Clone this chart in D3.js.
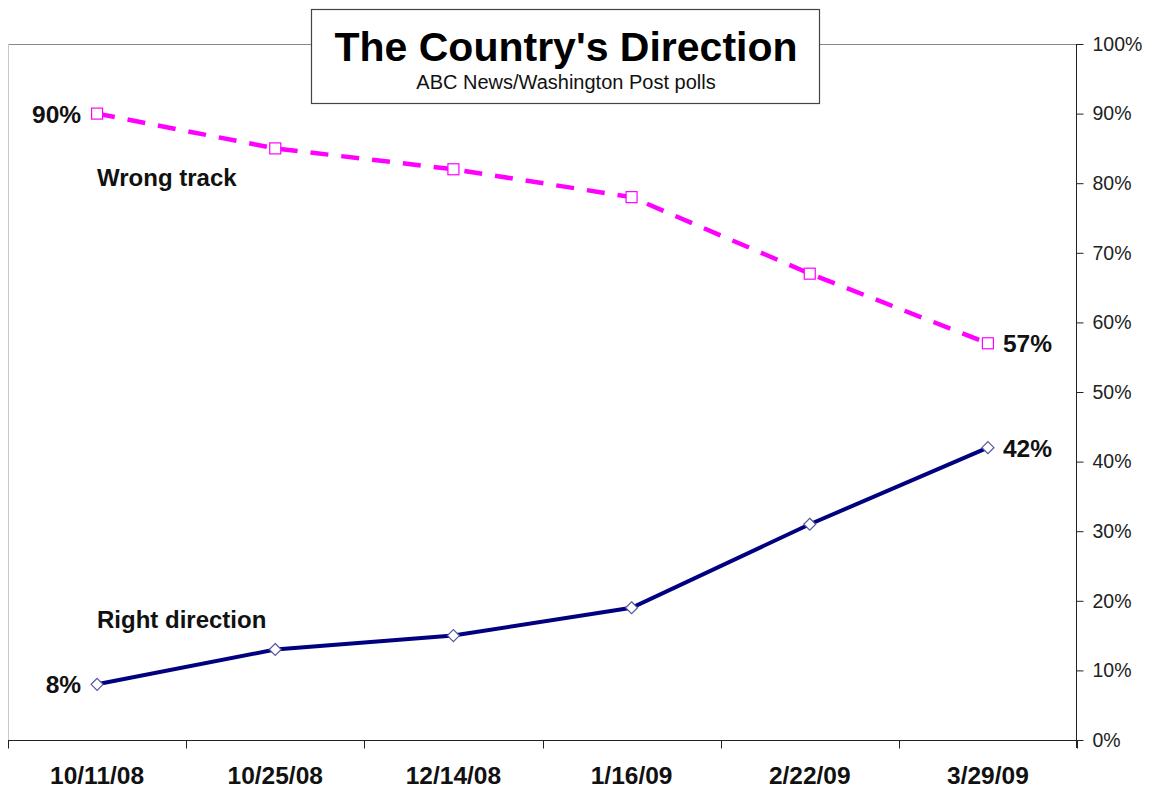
<!DOCTYPE html>
<html>
<head>
<meta charset="utf-8">
<script src="https://cdn.jsdelivr.net/npm/d3@7"></script>
<style>
  html, body { margin: 0; padding: 0; background: #fff; }
  svg { display: block; font-family: Arial, "Liberation Sans", sans-serif; }
</style>
</head>
<body>
<svg id="chart" width="1151" height="787"></svg>
<script>
// Poll dates and results (percent)
const pollDates = ["10/11/08", "10/25/08", "12/14/08", "1/16/09", "2/22/09", "3/29/09"];
const wrongTrack = [90, 85, 82, 78, 67, 57];
const rightDirection = [8, 13, 15, 19, 31, 42];
const yTicks = [0, 10, 20, 30, 40, 50, 60, 70, 80, 90, 100];

const svg = d3.select("#chart");
const plot = { left: 8, right: 1077, top: 44, bottom: 740 };

const x = d3.scaleBand().domain(pollDates).range([plot.left, plot.right]);
const y = d3.scaleLinear().domain([0, 100]).range([plot.bottom, plot.top]);
const cx = d => x(d) + x.bandwidth() / 2;

// plot frame: top and left edges
svg.append("line").attr("x1", plot.left).attr("x2", plot.right)
  .attr("y1", plot.top + 0.5).attr("y2", plot.top + 0.5)
  .attr("stroke", "#888").attr("stroke-width", 1);
svg.append("line").attr("x1", plot.left + 0.5).attr("x2", plot.left + 0.5)
  .attr("y1", plot.top).attr("y2", plot.bottom)
  .attr("stroke", "#c8c8c8").attr("stroke-width", 1);

// right-hand percent axis
const yAxis = svg.append("g")
  .attr("transform", `translate(${plot.right - 0.5},0)`)
  .call(d3.axisRight(y).tickValues(yTicks).tickFormat(d => d + "%").tickSize(7).tickPadding(9));
yAxis.select(".domain").attr("stroke", "#222").attr("d", `M0,${plot.top}V${plot.bottom + 8}`);
yAxis.selectAll(".tick line").attr("stroke", "#222");
yAxis.selectAll(".tick text").attr("font-size", 19.5).attr("fill", "#222")
  .attr("font-family", "Arial, 'Liberation Sans', sans-serif");

// bottom category axis with ticks on band boundaries
const xAxisG = svg.append("g").attr("transform", `translate(0,${plot.bottom + 0.5})`);
xAxisG.append("line").attr("x1", plot.left).attr("x2", plot.right)
  .attr("stroke", "#222").attr("stroke-width", 1);
const bounds = pollDates.map(d => x(d)).concat([plot.right]);
xAxisG.selectAll("line.bt").data(bounds).join("line").attr("class", "bt")
  .attr("x1", d => Math.round(d) + 0.5).attr("x2", d => Math.round(d) + 0.5)
  .attr("y1", 0).attr("y2", 8).attr("stroke", "#222");
xAxisG.selectAll("text").data(pollDates).join("text")
  .attr("x", d => cx(d)).attr("y", 43)
  .attr("text-anchor", "middle").attr("font-size", 24.5).attr("font-weight", "bold")
  .attr("fill", "#111").text(d => d);

const line = d3.line().x((d, i) => cx(pollDates[i])).y(d => y(d));

// Wrong track: magenta dashed line with square markers
svg.append("path").datum(wrongTrack).attr("d", line)
  .attr("fill", "none").attr("stroke", "#ff00ff").attr("stroke-width", 4.5)
  .attr("stroke-dasharray", "18,13");
svg.selectAll("rect.wt").data(wrongTrack).join("rect").attr("class", "wt")
  .attr("x", (d, i) => cx(pollDates[i]) - 5.5).attr("y", d => y(d) - 5.5)
  .attr("width", 11).attr("height", 11)
  .attr("fill", "#fff").attr("stroke", "#ff00ff").attr("stroke-width", 1.2);

// Right direction: navy solid line with diamond markers
svg.append("path").datum(rightDirection).attr("d", line)
  .attr("fill", "none").attr("stroke", "#000080").attr("stroke-width", 4);
svg.selectAll("path.rd").data(rightDirection).join("path").attr("class", "rd")
  .attr("d", (d, i) => {
    const px = cx(pollDates[i]), py = y(d), r = 6;
    return `M${px},${py - r}L${px + r},${py}L${px},${py + r}L${px - r},${py}Z`;
  })
  .attr("fill", "#fff").attr("stroke", "#5555a0").attr("stroke-width", 1.2);

// end-point value labels
const last = pollDates.length - 1;
const endLabels = [
  { v: wrongTrack[0], i: 0, side: "left" },
  { v: rightDirection[0], i: 0, side: "left" },
  { v: wrongTrack[last], i: last, side: "right" },
  { v: rightDirection[last], i: last, side: "right" }
];
svg.selectAll("text.val").data(endLabels).join("text").attr("class", "val")
  .attr("x", d => cx(pollDates[d.i]) + (d.side === "left" ? -16 : 15))
  .attr("y", d => y(d.v) + 9)
  .attr("text-anchor", d => d.side === "left" ? "end" : "start")
  .attr("font-size", 24.5).attr("font-weight", "bold").attr("fill", "#111")
  .text(d => d.v + "%");

// series names
svg.append("text").attr("x", 97).attr("y", 186)
  .attr("font-size", 24).attr("font-weight", "bold").attr("fill", "#111").text("Wrong track");
svg.append("text").attr("x", 97).attr("y", 628)
  .attr("font-size", 24).attr("font-weight", "bold").attr("fill", "#111").text("Right direction");

// title box
svg.append("rect").attr("x", 311.5).attr("y", 9.5).attr("width", 508).attr("height", 94)
  .attr("fill", "#fff").attr("stroke", "#444").attr("stroke-width", 1.2);
svg.append("text").attr("x", 566).attr("y", 61).attr("text-anchor", "middle")
  .attr("font-size", 41).attr("font-weight", "bold").attr("fill", "#000")
  .text("The Country's Direction");
svg.append("text").attr("x", 566).attr("y", 89).attr("text-anchor", "middle")
  .attr("font-size", 20).attr("fill", "#111")
  .text("ABC News/Washington Post polls");
</script>
</body>
</html>
